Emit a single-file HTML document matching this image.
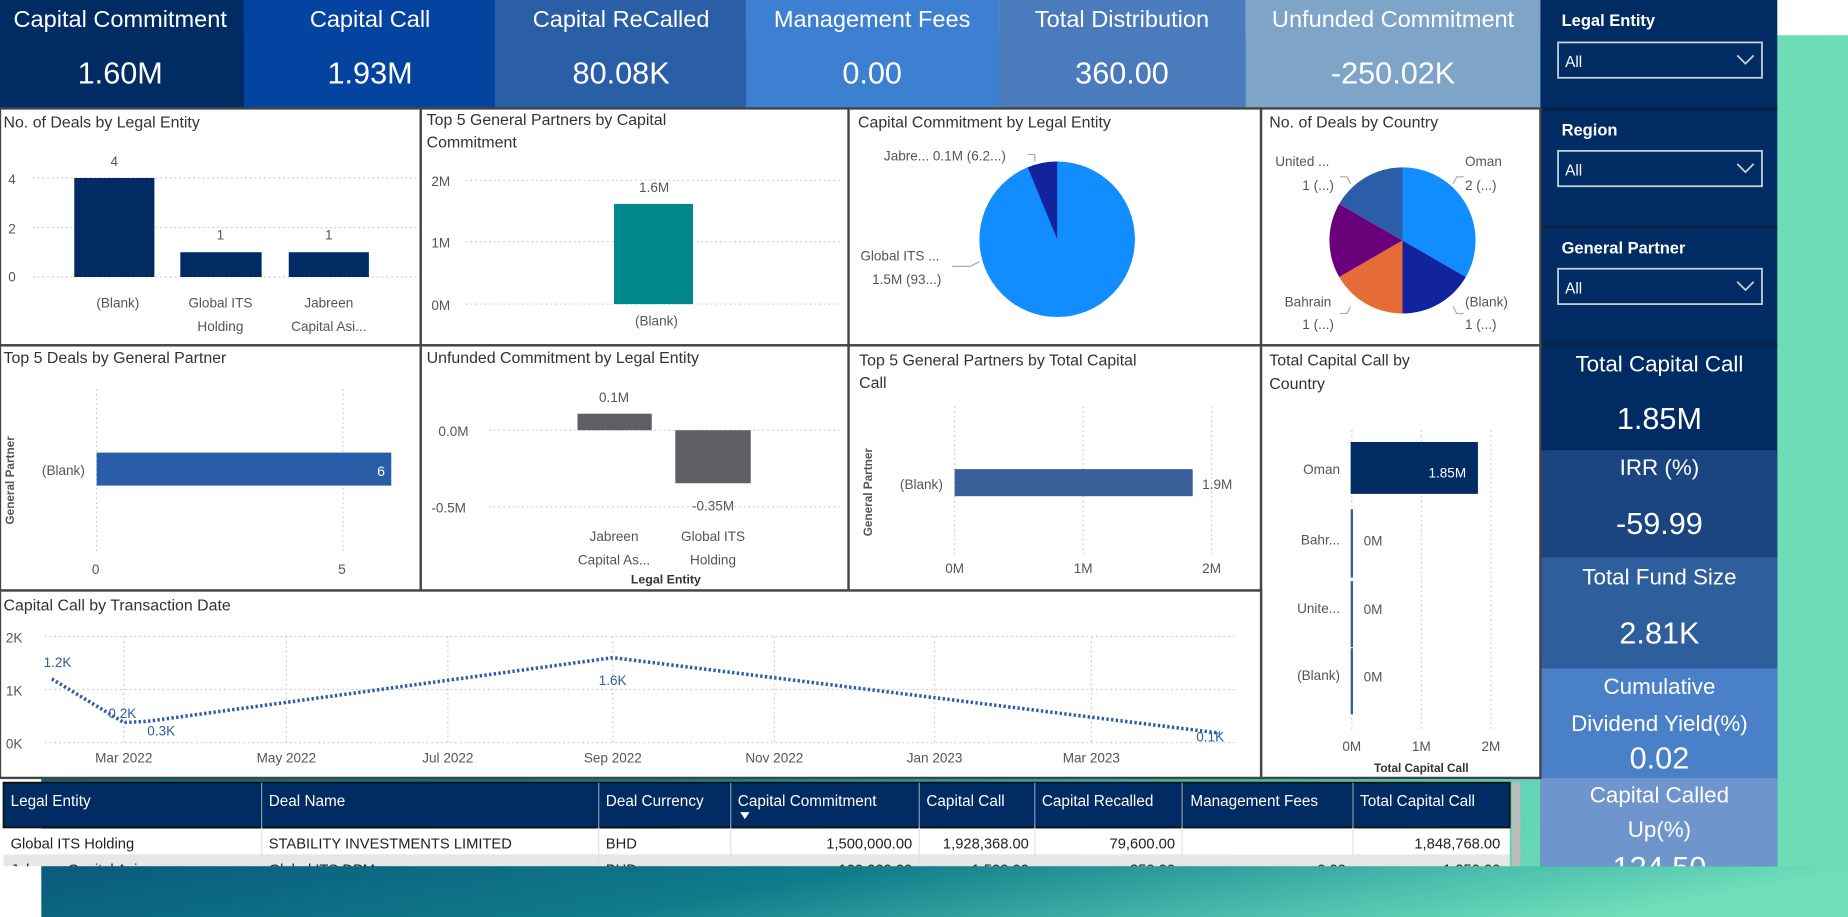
<!DOCTYPE html>
<html><head><meta charset="utf-8"><style>
html,body{margin:0;padding:0;background:#fff;width:1848px;height:917px;overflow:hidden}
svg{display:block}
text{font-family:"Liberation Sans",sans-serif}
.t{font-size:13.5px;fill:#333}
.a{font-size:11.5px;fill:#555}
.k{fill:#fff;text-anchor:middle}
.g{stroke:#ccc;stroke-dasharray:1.5 2.5;stroke-width:1}
.h{font-size:13px;fill:#fff}
.c{font-size:12.5px;fill:#222}
</style></head><body>
<svg width="1848" height="917" viewBox="0 0 1568 778" preserveAspectRatio="none">
<defs>
<linearGradient id="bg" x1="0" y1="0" x2="1" y2="0.15">
<stop offset="0" stop-color="#0a5a7c"/><stop offset="0.45" stop-color="#0f7b8a"/><stop offset="0.8" stop-color="#4cbfae"/><stop offset="1" stop-color="#70dfb9"/></linearGradient>
</defs>
<rect width="1568" height="778" fill="#fff"/>
<rect x="35" y="30" width="1533" height="748" fill="url(#bg)"/>
<rect x="1508" y="30" width="60" height="705" fill="#6fdcb8"/>
<!-- KPI row -->
<rect x="0" y="0" width="207" height="92" fill="#002b63"/>
<rect x="207" y="0" width="213" height="92" fill="#0444a0"/>
<rect x="420" y="0" width="213" height="92" fill="#2a5ea6"/>
<rect x="633" y="0" width="215" height="92" fill="#3d7fd0"/>
<rect x="848" y="0" width="209" height="92" fill="#4a7bbd"/>
<rect x="1057" y="0" width="250" height="92" fill="#7ea5c8"/>
<g class="k" font-size="20">
<text x="102" y="23">Capital Commitment</text><text x="314" y="23">Capital Call</text><text x="527" y="23">Capital ReCalled</text><text x="740" y="23">Management Fees</text><text x="952" y="23">Total Distribution</text><text x="1182" y="23">Unfunded Commitment</text></g>
<g class="k" font-size="26">
<text x="102" y="71">1.60M</text><text x="314" y="71">1.93M</text><text x="527" y="71">80.08K</text><text x="740" y="71">0.00</text><text x="952" y="71">360.00</text><text x="1182" y="71">-250.02K</text></g>
<!-- sidebar -->
<rect x="1307" y="0" width="201" height="735" fill="#002b63"/>
<rect x="1307" y="91" width="201" height="3" fill="#0b2347"/>
<rect x="1307" y="191" width="201" height="3" fill="#0b2347"/>
<rect x="1307" y="291" width="201" height="3" fill="#0b2347"/>
<g font-size="14" font-weight="bold" fill="#fff"><text x="1325" y="22">Legal Entity</text><text x="1325" y="115">Region</text><text x="1325" y="215">General Partner</text></g>
<g fill="none" stroke="#c8d0dc" stroke-width="1.5"><rect x="1322" y="36" width="173" height="30"/><rect x="1322" y="128" width="173" height="30"/><rect x="1322" y="228" width="173" height="30"/>
<path d="M1474 47l7 7 7-7M1474 139l7 7 7-7M1474 239l7 7 7-7"/></g>
<g font-size="13" fill="#fff"><text x="1328" y="57">All</text><text x="1328" y="149">All</text><text x="1328" y="249">All</text></g>
<rect x="1307" y="382" width="201" height="91" fill="#1a4580"/>
<rect x="1307" y="473" width="201" height="94" fill="#2f5e9c"/>
<rect x="1307" y="567" width="201" height="93" fill="#4a80c8"/>
<rect x="1307" y="660" width="201" height="75" fill="#6e96cc"/>
<g class="k" font-size="19"><text x="1408" y="315">Total Capital Call</text><text x="1408" y="403">IRR (%)</text><text x="1408" y="496">Total Fund Size</text><text x="1408" y="589">Cumulative</text><text x="1408" y="620">Dividend Yield(%)</text><text x="1408" y="681">Capital Called</text><text x="1408" y="710">Up(%)</text></g>
<g class="k" font-size="26"><text x="1408" y="364">1.85M</text><text x="1408" y="453">-59.99</text><text x="1408" y="546">2.81K</text><text x="1408" y="652">0.02</text></g>
<svg x="1307" y="715" width="201" height="20" overflow="hidden"><text x="101" y="30" class="k" font-size="26">124.50</text></svg>
<!-- panels -->
<g fill="#fff" stroke="#444" stroke-width="2">
<rect x="0" y="92" width="357" height="201"/><rect x="357" y="92" width="363" height="201"/><rect x="720" y="92" width="350" height="201"/><rect x="1070" y="92" width="237" height="201"/>
<rect x="0" y="293" width="357" height="208"/><rect x="357" y="293" width="363" height="208"/><rect x="720" y="293" width="350" height="208"/><rect x="1070" y="293" width="237" height="367"/>
<rect x="0" y="501" width="1070" height="159"/></g>
<!-- P1 -->
<text x="3" y="108" class="t">No. of Deals by Legal Entity</text>
<line class="g" x1="28" y1="151" x2="355" y2="151"/><line class="g" x1="28" y1="193" x2="355" y2="193"/><line class="g" x1="28" y1="235" x2="355" y2="235"/>
<g class="a"><text x="7" y="156">4</text><text x="7" y="198">2</text><text x="7" y="239">0</text></g>
<g fill="#002b63"><rect x="63" y="151" width="68" height="84"/><rect x="153" y="214" width="69" height="21"/><rect x="245" y="214" width="68" height="21"/></g>
<g class="a" text-anchor="middle"><text x="97" y="141">4</text><text x="187" y="203">1</text><text x="279" y="203">1</text>
<text x="100" y="261">(Blank)</text><text x="187" y="261">Global ITS</text><text x="187" y="281">Holding</text><text x="279" y="261">Jabreen</text><text x="279" y="281">Capital Asi...</text></g>
<!-- P2 -->
<text x="362" y="106" class="t">Top 5 General Partners by Capital</text><text x="362" y="125" class="t">Commitment</text>
<line class="g" x1="395" y1="153" x2="714" y2="153"/><line class="g" x1="395" y1="205" x2="714" y2="205"/><line class="g" x1="395" y1="258" x2="714" y2="258"/>
<g class="a"><text x="366" y="158">2M</text><text x="366" y="210">1M</text><text x="366" y="263">0M</text></g>
<rect x="521" y="173" width="67" height="85" fill="#00888a"/>
<g class="a" text-anchor="middle"><text x="555" y="163">1.6M</text><text x="557" y="276">(Blank)</text></g>
<!-- P3 -->
<text x="728" y="108" class="t">Capital Commitment by Legal Entity</text>
<circle cx="897" cy="203" r="66" fill="#118dff"/>
<path d="M897 203 L897 137 A66 66 0 0 0 872 142 Z" fill="#12239e"/>
<g class="a" font-size="11"><text x="750" y="136">Jabre... 0.1M (6.2...)</text><text x="730" y="221">Global ITS ...</text><text x="740" y="241">1.5M (93...)</text></g>
<path d="M872 131h6v6M808 226h15l8-4" fill="none" stroke="#aaa"/>
<!-- P4 -->
<text x="1077" y="108" class="t">No. of Deals by Country</text>
<g transform="translate(1190 204)">
<path d="M0 0 L0 -62 A62 62 0 0 1 53.7 31 Z" fill="#118dff"/>
<path d="M0 0 L53.7 31 A62 62 0 0 1 0 62 Z" fill="#12239e"/>
<path d="M0 0 L0 62 A62 62 0 0 1 -53.7 31 Z" fill="#e66c37"/>
<path d="M0 0 L-53.7 31 A62 62 0 0 1 -53.7 -31 Z" fill="#6b007b"/>
<path d="M0 0 L-53.7 -31 A62 62 0 0 1 0 -62 Z" fill="#2b5ea8"/></g>
<g class="a" font-size="11.5" fill="#333"><text x="1082" y="141">United ...</text><text x="1105" y="161">1 (...)</text><text x="1243" y="141">Oman</text><text x="1243" y="161">2 (...)</text>
<text x="1090" y="260">Bahrain</text><text x="1105" y="279">1 (...)</text><text x="1243" y="260">(Blank)</text><text x="1243" y="279">1 (...)</text></g>
<path d="M1137 150h6l3 6M1242 150h-6l-3 6M1137 266h6l3-6M1242 266h-6l-3-6" fill="none" stroke="#aaa"/>
<!-- R2 P1 -->
<text x="3" y="308" class="t">Top 5 Deals by General Partner</text>
<text transform="translate(12 445) rotate(-90)" font-size="10" font-weight="bold" fill="#555">General Partner</text>
<line class="g" x1="82" y1="330" x2="82" y2="470"/><line class="g" x1="291" y1="330" x2="291" y2="470"/>
<rect x="82" y="384" width="250" height="28" fill="#2a5da7"/>
<g class="a"><text x="72" y="403" text-anchor="end">(Blank)</text><text x="78" y="487">0</text><text x="287" y="487">5</text></g>
<text x="320" y="404" font-size="12" fill="#fff">6</text>
<!-- R2 P2 -->
<text x="362" y="308" class="t">Unfunded Commitment by Legal Entity</text>
<line class="g" x1="415" y1="365" x2="714" y2="365"/><line class="g" x1="415" y1="430" x2="714" y2="430"/>
<g class="a"><text x="372" y="370">0.0M</text><text x="366" y="435">-0.5M</text></g>
<g fill="#5f5f63"><rect x="490" y="351" width="63" height="14"/><rect x="573" y="365" width="64" height="45"/></g>
<g class="a" text-anchor="middle"><text x="521" y="341">0.1M</text><text x="605" y="433">-0.35M</text><text x="521" y="459">Jabreen</text><text x="521" y="479">Capital As...</text><text x="605" y="459">Global ITS</text><text x="605" y="479">Holding</text>
<text x="565" y="495" font-size="10.5" font-weight="bold" fill="#333">Legal Entity</text></g>
<!-- R2 P3 -->
<text x="729" y="310" class="t">Top 5 General Partners by Total Capital</text><text x="729" y="329" class="t">Call</text>
<text transform="translate(740 455) rotate(-90)" font-size="10" font-weight="bold" fill="#555">General Partner</text>
<line class="g" x1="810" y1="345" x2="810" y2="470"/><line class="g" x1="919" y1="345" x2="919" y2="470"/><line class="g" x1="1028" y1="345" x2="1028" y2="470"/>
<rect x="810" y="398" width="202" height="23" fill="#3a5f98"/>
<g class="a"><text x="800" y="415" text-anchor="end">(Blank)</text><text x="1020" y="415">1.9M</text></g>
<g class="a" text-anchor="middle"><text x="810" y="486">0M</text><text x="919" y="486">1M</text><text x="1028" y="486">2M</text></g>
<!-- Country bars -->
<text x="1077" y="310" class="t">Total Capital Call by</text><text x="1077" y="330" class="t">Country</text>
<line class="g" x1="1147" y1="365" x2="1147" y2="620"/><line class="g" x1="1206" y1="365" x2="1206" y2="620"/><line class="g" x1="1265" y1="365" x2="1265" y2="620"/>
<rect x="1146" y="375" width="108" height="44" fill="#002b63"/>
<g fill="#3a5f98"><rect x="1146" y="432" width="2" height="58"/><rect x="1146" y="490" width="2" height="2" fill="none"/><rect x="1146" y="493" width="2" height="56"/><rect x="1146" y="550" width="2" height="56"/></g>
<text x="1244" y="405" font-size="11.5" fill="#fff" text-anchor="end">1.85M</text>
<g class="a"><text x="1137" y="402" text-anchor="end">Oman</text><text x="1137" y="462" text-anchor="end">Bahr...</text><text x="1137" y="520" text-anchor="end">Unite...</text><text x="1137" y="577" text-anchor="end">(Blank)</text>
<text x="1157" y="463">0M</text><text x="1157" y="521">0M</text><text x="1157" y="578">0M</text></g>
<g class="a" text-anchor="middle"><text x="1147" y="637">0M</text><text x="1206" y="637">1M</text><text x="1265" y="637">2M</text>
<text x="1206" y="655" font-size="10" font-weight="bold" fill="#333">Total Capital Call</text></g>
<!-- line chart -->
<text x="3" y="518" class="t">Capital Call by Transaction Date</text>
<g class="g"><line x1="38" y1="540" x2="1050" y2="540"/><line x1="38" y1="585" x2="1050" y2="585"/><line x1="38" y1="630" x2="1050" y2="630"/>
<line x1="105" y1="540" x2="105" y2="630"/><line x1="243" y1="540" x2="243" y2="630"/><line x1="380" y1="540" x2="380" y2="630"/><line x1="520" y1="540" x2="520" y2="630"/><line x1="657" y1="540" x2="657" y2="630"/><line x1="793" y1="540" x2="793" y2="630"/><line x1="926" y1="540" x2="926" y2="630"/></g>
<g class="a"><text x="5" y="545">2K</text><text x="5" y="590">1K</text><text x="5" y="635">0K</text></g>
<polyline points="44,576 105,613 125,612 520,558 1035,622" fill="none" stroke="#2a5da7" stroke-width="3" stroke-dasharray="2 2"/>
<g font-size="11.5" fill="#2a5da7"><text x="37" y="566">1.2K</text><text x="92" y="609">0.2K</text><text x="125" y="624">0.3K</text><text x="508" y="581">1.6K</text><text x="1015" y="629">0.1K</text></g>
<g class="a" text-anchor="middle" font-size="12"><text x="105" y="647">Mar 2022</text><text x="243" y="647">May 2022</text><text x="380" y="647">Jul 2022</text><text x="520" y="647">Sep 2022</text><text x="657" y="647">Nov 2022</text><text x="793" y="647">Jan 2023</text><text x="926" y="647">Mar 2023</text></g>
<!-- table -->
<rect x="3" y="664" width="1278" height="38" fill="#002b63" stroke="#111" stroke-width="1.5"/>
<rect x="3" y="703" width="1278" height="22" fill="#fff"/>
<rect x="3" y="725" width="1278" height="10" fill="#e6e6e6"/>
<rect x="1283" y="664" width="7" height="71" fill="#bbb"/>
<g stroke="#8899aa" stroke-width="1"><path d="M222 664v38M508 664v38M620 664v38M780 664v38M878 664v38M1003 664v38M1148 664v38"/></g>
<g stroke="#e2e2e2"><path d="M222 702v33M508 702v33M620 702v33M780 702v33M878 702v33M1003 702v33M1148 702v33"/></g>
<g class="h"><text x="9" y="684">Legal Entity</text><text x="228" y="684">Deal Name</text><text x="514" y="684">Deal Currency</text><text x="626" y="684">Capital Commitment</text><text x="786" y="684">Capital Call</text><text x="884" y="684">Capital Recalled</text><text x="1010" y="684">Management Fees</text><text x="1154" y="684">Total Capital Call</text></g>
<path d="M628 689h8l-4 6z" fill="#fff"/>
<g class="c"><text x="9" y="720">Global ITS Holding</text><text x="228" y="720">STABILITY INVESTMENTS LIMITED</text><text x="514" y="720">BHD</text>
<g text-anchor="end"><text x="774" y="720">1,500,000.00</text><text x="873" y="720">1,928,368.00</text><text x="997" y="720">79,600.00</text><text x="1273" y="720">1,848,768.00</text></g>
<text x="9" y="742">Jabreen Capital Asia</text><text x="228" y="742">Global ITS DPM</text><text x="514" y="742">BHD</text>
<g text-anchor="end"><text x="774" y="742">100,000.00</text><text x="873" y="742">1,500.00</text><text x="997" y="742">250.00</text><text x="1142" y="742">0.00</text><text x="1273" y="742">1,250.00</text></g></g>
<!-- bottom band overlay -->
<rect x="35" y="735" width="1533" height="43" fill="url(#bg)"/>
<rect x="0" y="735" width="35" height="43" fill="#fff"/>
</svg>
</body></html>
